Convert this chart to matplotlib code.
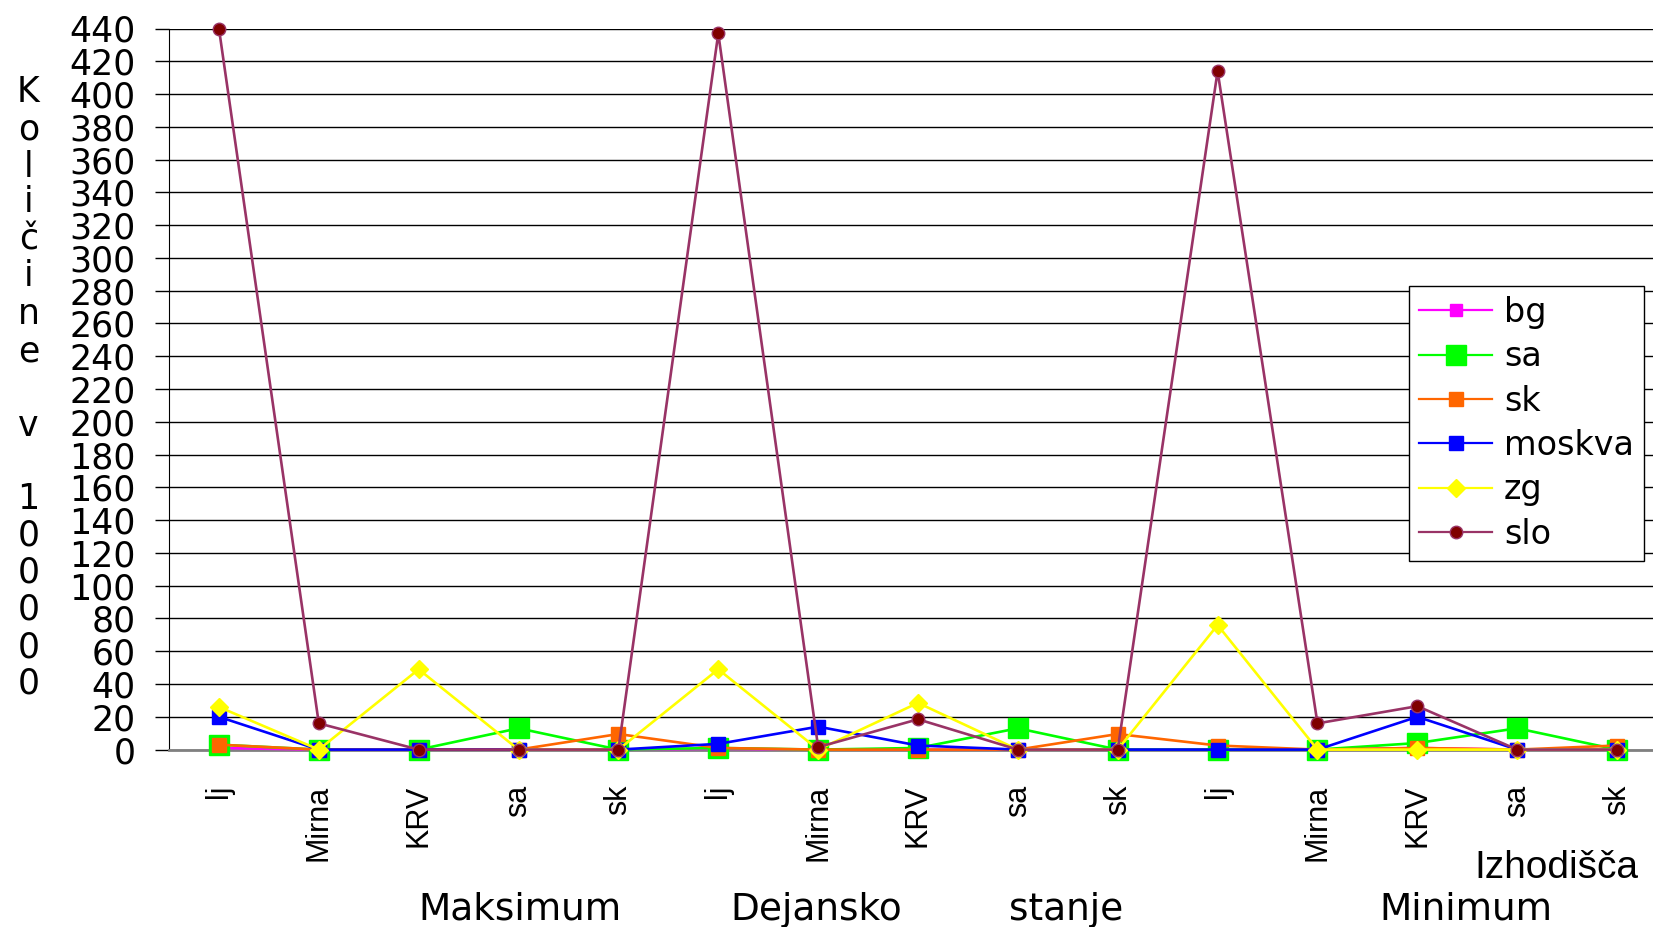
import matplotlib
matplotlib.use("Agg")
import numpy as np
import matplotlib.pyplot as plt
from matplotlib.lines import Line2D

# categories on the x axis (three blocks of five)
cats = ['lj', 'Mirna', 'KRV', 'sa', 'sk'] * 3

# series values (units of 100000)
bg = [1, 0, 0, 0, 0, 0.5, 0, 0, 0, 0, 0, 0, 1, 0, 0]
sa = [3, 0, 0, 13, 0, 1, 0, 1, 13, 0, 0, 0, 4, 13, 0]
sk = [3, 0, 0, 0, 9.5, 1, 0, 0, 0, 9.5, 2.5, 0, 1, 0, 2.5]
moskva = [20, 0, 0, 0, 0, 3.5, 14, 2.5, 0, 0, 0, 0, 20, 0, 0]
zg = [26, 0, 49, 0, 0, 49, 0, 28.5, 0, 0, 76, 0, 0, 0, 0]
slo = [440, 16, 0, 0, 0, 437, 1.5, 18.5, 0, 0, 414, 16, 26.5, 0, 0]

yticks = np.arange(0, 441, 20)
ylabel = "Količine v 100000"
group_labels = ['Maksimum', 'Dejansko', 'stanje', 'Minimum']

W, H = 1653, 927
fig = plt.figure(figsize=(W / 100, H / 100), dpi=100)
ax = fig.add_axes([169 / W, 1 - 749.6 / H, 1498 / W, (749.6 - 28.5) / H])

x = np.arange(len(cats))
styles = [
    ('bg', bg, dict(color='#FF00FF', marker='s', ms=8, mfc='#FF00FF', mec='#FF00FF')),
    ('sa', sa, dict(color='#00FF00', marker='s', ms=15, mfc='#00FF00', mec='#00FF00')),
    ('sk', sk, dict(color='#FF6600', marker='s', ms=10, mfc='#FF6600', mec='#FF6600')),
    ('moskva', moskva, dict(color='#0000FF', marker='s', ms=10, mfc='#0000FF', mec='#0000FF')),
    ('zg', zg, dict(color='#FFFF00', marker='D', ms=9, mfc='#FFFF00', mec='#FFFF00')),
    ('slo', slo, dict(color='#993366', marker='o', ms=9, mfc='#800000', mec='#993366')),
]
handles = []
for i, (name, vals, st) in enumerate(styles):
    ax.plot(x, vals, lw=1.9, clip_on=False, zorder=3 + i, **st)
    handles.append(Line2D([], [], lw=1.6, **st))

ax.set_xlim(-0.5, len(cats) - 0.5)
ax.set_ylim(0, 440)
ax.set_yticks(yticks)
ax.set_yticklabels([str(v) for v in yticks], fontsize=25, family='DejaVu Sans')
ax.tick_params(axis='y', length=10, width=1, color='black', pad=14)
ax.set_xticks(x)
ax.set_xticklabels(cats, rotation=90, fontsize=22, va='top',
                   family=['Liberation Sans Narrow', 'Liberation Sans'])
ax.tick_params(axis='x', length=0, pad=25)
ax.grid(axis='y', color='black', lw=1)
ax.set_axisbelow(True)
for s in ['top', 'right']:
    ax.spines[s].set_visible(False)
ax.spines['left'].set_color('black')
ax.spines['bottom'].set_color('#808080')
ax.spines['bottom'].set_linewidth(2)

# vertical y label, one letter per line
ys = [87, 123, 158, 192, 227, 262, 298, 333, None, 404, None, 473, 508, 543, 578, 614, 648]
letters = [c for c in ylabel]
for c, yy in zip(letters, ys):
    if yy is None or c == ' ':
        continue
    fig.text(28.5 / W, 1 - yy * 1.0542 / H, c, fontsize=25, family='DejaVu Sans',
             ha='center', va='center')

fig.text(1556 / W, 1 - 878 / H, 'Izhodišča', fontsize=28, family='Liberation Sans',
         ha='center', va='baseline')
gx = [519.7, 816, 1066, 1466]
for lab, gxx in zip(group_labels, gx):
    fig.text(gxx / W, 1 - 920 / H, lab, fontsize=27, family='DejaVu Sans',
             ha='center', va='baseline')

leg = fig.legend(handles, [s[0] for s in styles], loc='upper left',
                 bbox_to_anchor=(1409 / W, 1 - 286 / H),
                 prop={'family': 'DejaVu Sans', 'size': 24},
                 frameon=True, fancybox=False, framealpha=1, edgecolor='black',
                 handlelength=2.2, handletextpad=0.35, labelspacing=0.34,
                 borderpad=0.3, borderaxespad=0)
leg.get_frame().set_linewidth(1)

fig.savefig('out.png', dpi=100)
